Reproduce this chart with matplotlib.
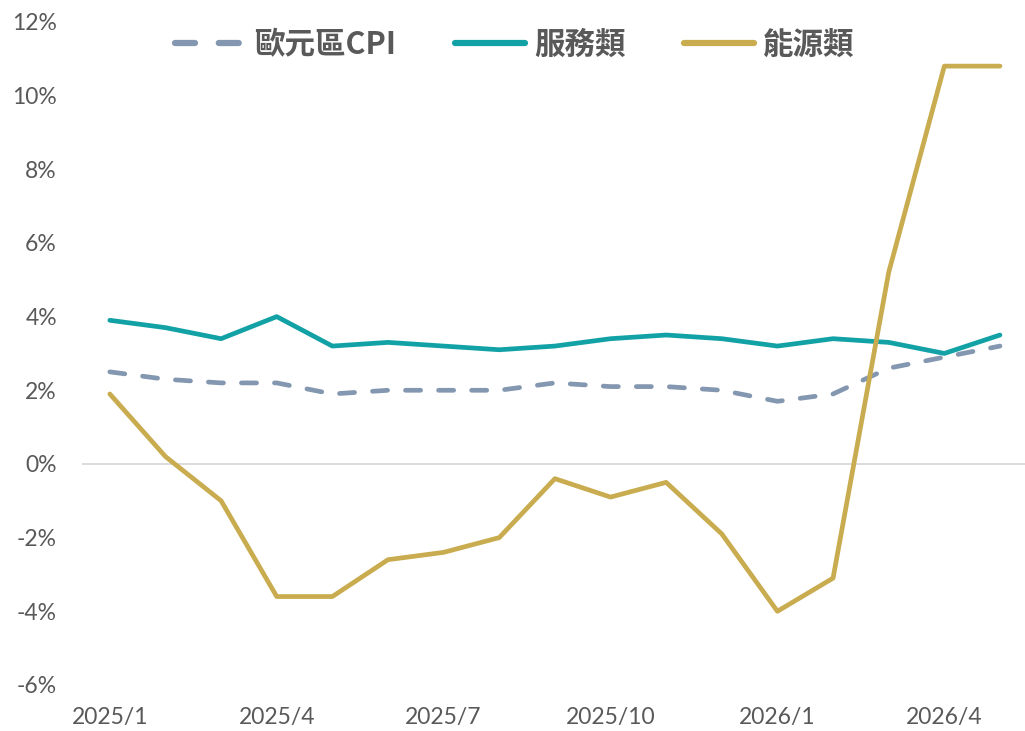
import matplotlib
matplotlib.use("Agg")
import matplotlib.pyplot as plt
from matplotlib.ticker import FuncFormatter

# monthly data, 2025/1 - 2026/5 (YoY %)
months = ["2025/1", "2025/2", "2025/3", "2025/4", "2025/5", "2025/6",
          "2025/7", "2025/8", "2025/9", "2025/10", "2025/11", "2025/12",
          "2026/1", "2026/2", "2026/3", "2026/4", "2026/5"]
cpi = [2.5, 2.3, 2.2, 2.2, 1.9, 2.0, 2.0, 2.0, 2.2, 2.1, 2.1, 2.0,
       1.7, 1.9, 2.6, 2.9, 3.2]
services = [3.9, 3.7, 3.4, 4.0, 3.2, 3.3, 3.2, 3.1, 3.2, 3.4, 3.5, 3.4,
            3.2, 3.4, 3.3, 3.0, 3.5]
energy = [1.9, 0.2, -1.0, -3.6, -3.6, -2.6, -2.4, -2.0, -0.4, -0.9, -0.5, -1.9,
          -4.0, -3.1, 5.2, 10.8, 10.8]
labels = ["歐元區CPI", "服務類", "能源類"]

tick_font = ["Lato", "DejaVu Sans"]
cjk_font = ["Noto Sans CJK TC", "DejaVu Sans"]
grey = "#595959"

fig = plt.figure(figsize=(10.25, 7.31), dpi=100)
ax = fig.add_axes([0.08, 0.063, 0.92, 0.907])

x = list(range(len(months)))

ax.axhline(0, color="#D9D9D9", lw=1.3, zorder=1)

ax.plot(x, services, color="#12A2A6", lw=3.4, solid_capstyle="round",
        solid_joinstyle="round", label=labels[1], zorder=2)
ax.plot(x, cpi, color="#8497B0", lw=3.4, linestyle=(0, (3.2, 3.8)),
        dash_capstyle="round", label=labels[0], zorder=3)
ax.plot(x, energy, color="#C9AC4F", lw=3.4, solid_capstyle="round",
        solid_joinstyle="round", label=labels[2], zorder=4)

ax.set_xlim(-0.5, 16.45)
ax.set_ylim(-6, 12)
ax.set_yticks(range(-6, 13, 2))
ax.yaxis.set_major_formatter(FuncFormatter(lambda v, p: f"{v:.0f}%"))
ax.set_xticks(x[::3])
ax.set_xticklabels(months[::3])

for s in ax.spines.values():
    s.set_visible(False)
ax.tick_params(length=0, colors=grey, labelsize=16.5)
ax.tick_params(axis="y", pad=18)
ax.tick_params(axis="x", pad=16)
for t in ax.get_xticklabels() + ax.get_yticklabels():
    t.set_family(tick_font)

h, l = ax.get_legend_handles_labels()
order = [1, 0, 2]
leg = ax.legend([h[i] for i in order], [l[i] for i in order], ncol=3,
                loc="center", bbox_to_anchor=(0.459, 0.965), frameon=False,
                handlelength=2.3, columnspacing=1.9, handletextpad=0.3,
                prop={"family": cjk_font, "weight": "bold", "size": 22})
for t in leg.get_texts():
    t.set_color(grey)
for ln in leg.legend_handles:
    ln.set_linewidth(4.5)

fig.savefig("out.png", dpi=100)
